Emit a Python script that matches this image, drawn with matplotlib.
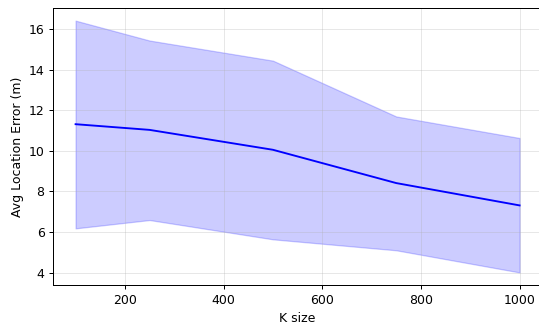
import matplotlib
matplotlib.use('Agg')
import matplotlib.pyplot as plt

# data
k_size = [100, 250, 500, 750, 1000]
mean_err = [11.31, 11.03, 10.05, 8.41, 7.31]
upper_err = [16.41, 15.43, 14.44, 11.69, 10.63]
lower_err = [6.18, 6.59, 5.64, 5.10, 4.01]

fig = plt.figure(figsize=(5.99, 3.612), dpi=90)
ax = fig.add_axes([0.099, 0.123, 0.906, 0.852])

ax.fill_between(k_size, lower_err, upper_err, color='blue', alpha=0.2)
ax.plot(k_size, mean_err, color='blue', linewidth=1.5)

ax.set_xlabel('K size')
ax.set_ylabel('Avg Location Error (m)')
ax.grid(alpha=0.3)

fig.savefig('out.png', dpi=90)
